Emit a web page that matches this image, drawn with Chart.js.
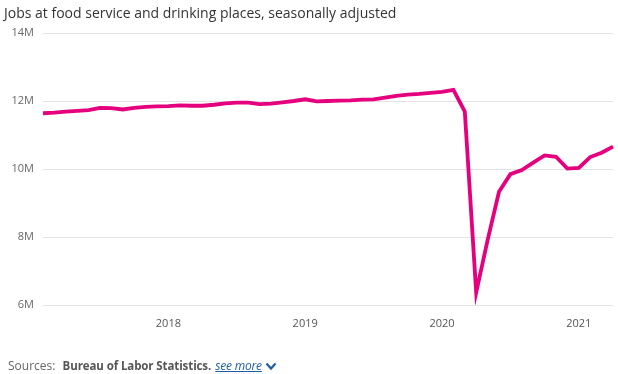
<!DOCTYPE html>
<html>
<head>
<meta charset="utf-8">
<script src="https://cdn.jsdelivr.net/npm/chart.js@4"></script>
<style>
  html, body { margin: 0; padding: 0; background: #fff; }
  body { width: 618px; height: 374px; position: relative; overflow: hidden; font-family: "Open Sans", sans-serif; }
  #title { position: absolute; left: 4px; top: 3px; font-size: 14px; color: #333; white-space: nowrap; }
  #wrap { position: absolute; left: 0; top: 0; width: 618px; height: 374px; }
  #footer { position: absolute; left: 8px; top: 357px; font-size: 12px; color: #666; white-space: nowrap; }
  #footer b { color: #555; margin-left: 4px; font-size: 11.5px; letter-spacing: -0.1px; }
  #footer i { color: #1f5fa0; text-decoration: underline; margin-left: 1px; letter-spacing: -0.2px; }
  #footer svg { vertical-align: -1px; margin-left: 3px; }
</style>
</head>
<body>
<div id="wrap"><canvas id="c" width="618" height="374"></canvas></div>
<div id="title">Jobs at food service and drinking places, seasonally adjusted</div>
<div id="footer">Sources: <b>Bureau of Labor Statistics.</b> <i>see more</i><svg width="12" height="9" viewBox="0 0 12 9"><path d="M1.5 1.5 L6 6.5 L10.5 1.5" fill="none" stroke="#1f5fa0" stroke-width="2.2"/></svg></div>
<script>
// Monthly categories, Feb 2017 .. Apr 2021
const months = [
  "2017-02","2017-03","2017-04","2017-05","2017-06","2017-07","2017-08","2017-09","2017-10","2017-11","2017-12",
  "2018-01","2018-02","2018-03","2018-04","2018-05","2018-06","2018-07","2018-08","2018-09","2018-10","2018-11","2018-12",
  "2019-01","2019-02","2019-03","2019-04","2019-05","2019-06","2019-07","2019-08","2019-09","2019-10","2019-11","2019-12",
  "2020-01","2020-02","2020-03","2020-04","2020-05","2020-06","2020-07","2020-08","2020-09","2020-10","2020-11","2020-12",
  "2021-01","2021-02","2021-03","2021-04"
];
// Jobs, millions
const jobs = [
  11.64,11.66,11.69,11.71,11.73,11.80,11.79,11.75,11.80,11.83,11.84,
  11.85,11.87,11.86,11.86,11.89,11.93,11.95,11.95,11.91,11.92,11.96,12.00,
  12.05,11.99,12.00,12.01,12.02,12.04,12.05,12.10,12.15,12.19,12.21,12.24,
  12.27,12.33,11.69,6.37,7.91,9.33,9.85,9.97,10.19,10.40,10.36,10.01,
  10.03,10.35,10.48,10.66
];
const yTicks = [6, 8, 10, 12, 14];

new Chart(document.getElementById('c'), {
  type: 'line',
  data: {
    labels: months,
    datasets: [{
      data: jobs,
      borderColor: '#e5007d',
      borderWidth: 3.8,
      pointRadius: 0,
      tension: 0,
      fill: false,
      borderJoinStyle: 'miter',
      borderCapStyle: 'butt'
    }]
  },
  options: {
    responsive: false,
    animation: false,
    plugins: { legend: { display: false }, tooltip: { enabled: false } },
    layout: { padding: { top: 33, right: 5, left: 0, bottom: 0 } },
    scales: {
      x: {
        offset: false,
        grid: { display: false, drawTicks: false },
        border: { display: false },
        ticks: {
          autoSkip: false,
          maxRotation: 0,
          padding: 12,
          color: '#555',
          font: { family: 'Open Sans', size: 11 },
          callback: function(v, i) {
            const m = months[i];
            return m.endsWith('-01') ? m.slice(0, 4) : null;
          }
        },
        afterFit: function(s) { s.height = 69; }
      },
      y: {
        min: 6, max: 14,
        afterBuildTicks: function(s) { s.ticks = yTicks.map(v => ({ value: v })); },
        grid: { color: '#e3e3e3', lineWidth: 1, drawTicks: false },
        border: { display: false },
        ticks: {
          padding: 9,
          color: '#666',
          font: { family: 'Open Sans', size: 11 },
          callback: v => v + 'M'
        },
        afterFit: function(s) { s.width = 43; }
      }
    }
  }
});
</script>
</body>
</html>
